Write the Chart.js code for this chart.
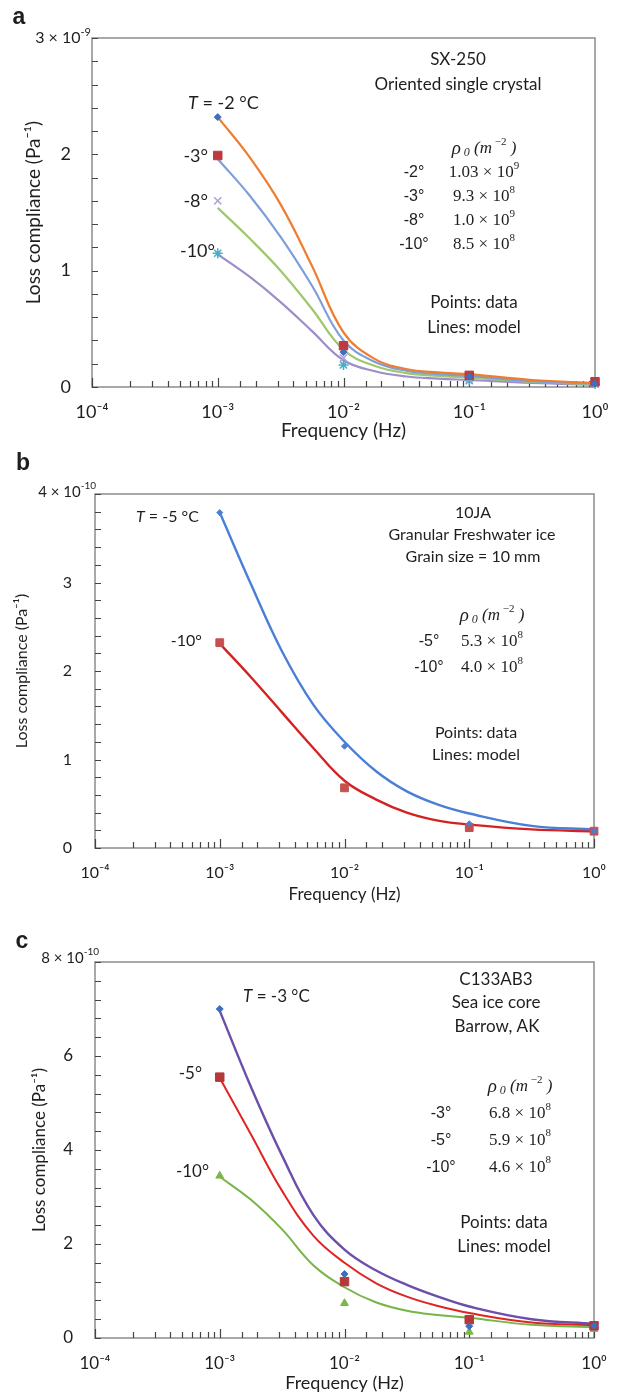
<!DOCTYPE html>
<html>
<head>
<meta charset="utf-8">
<script src="https://cdn.jsdelivr.net/npm/chart.js@4.4.1/dist/chart.umd.min.js"></script>
<style>
  body { margin: 0; background: #fff; width: 617px; height: 1394px; position: relative; overflow: hidden; }
  canvas { position: absolute; left: 0; }
</style>
</head>
<body>
<canvas id="chartA" width="617" height="445" style="top:0px"></canvas>
<canvas id="chartB" width="617" height="470" style="top:445px"></canvas>
<canvas id="chartC" width="617" height="479" style="top:915px"></canvas>
<script>
// frequencies (Hz) of measured points and of the read-off model curve
const dataFreq = [0.001, 0.01, 0.1, 1];
const modelFreq = [0.001, 0.00178, 0.00316, 0.00562, 0.01, 0.0178, 0.0316, 0.0562, 0.1, 0.316, 1];

// panel a, SX-250 (units of 1e-9 Pa^-1)
const aPts_m2 = [2.32, 0.30, 0.09, 0.03];
const aPts_m3 = [1.99, 0.355, 0.10, 0.045];
const aPts_m8 = [1.60, 0.25, 0.07, 0.03];
const aPts_m10 = [1.15, 0.19, 0.055, 0.025];
const aFit_m2 = [2.32, 1.98, 1.57, 1.04, 0.47, 0.24, 0.155, 0.125, 0.11, 0.06, 0.035];
const aFit_m3 = [1.96, 1.65, 1.29, 0.87, 0.40, 0.215, 0.14, 0.11, 0.095, 0.05, 0.03];
const aFit_m8 = [1.54, 1.28, 1.00, 0.67, 0.32, 0.18, 0.12, 0.095, 0.08, 0.045, 0.025];
const aFit_m10 = [1.14, 0.95, 0.73, 0.48, 0.23, 0.135, 0.09, 0.072, 0.06, 0.035, 0.02];

// panel b, 10JA (units of 1e-10 Pa^-1)
const bPts_m5 = [3.79, 1.15, 0.275, 0.19];
const bPts_m10 = [2.32, 0.68, 0.23, 0.19];
const bFit_m5 = [3.79, 2.98, 2.22, 1.62, 1.20, 0.87, 0.64, 0.49, 0.39, 0.25, 0.21];
const bFit_m10 = [2.31, 1.93, 1.53, 1.13, 0.76, 0.55, 0.40, 0.31, 0.265, 0.21, 0.19];

// panel c, C133AB3 (units of 1e-10 Pa^-1)
const cPts_m3 = [7.0, 1.36, 0.25, 0.26];
const cPts_m5 = [5.55, 1.2, 0.39, 0.26];
const cPts_m10 = [3.45, 0.74, 0.13, 0.19];
const cFit_m3 = [6.96, 5.34, 3.88, 2.62, 1.88, 1.44, 1.13, 0.88, 0.67, 0.40, 0.30];
const cFit_m5 = [5.53, 4.33, 3.13, 2.18, 1.60, 1.17, 0.88, 0.68, 0.53, 0.33, 0.27];
const cFit_m10 = [3.43, 2.94, 2.31, 1.55, 1.08, 0.76, 0.58, 0.49, 0.43, 0.28, 0.23];

// dislocation densities rho0 (m^-2)
const aRhoTemps = ['-2°', '-3°', '-8°', '-10°'];
const aRhoVals = [['1.03', '9'], ['9.3', '8'], ['1.0', '9'], ['8.5', '8']];
const bRhoTemps = ['-5°', '-10°'];
const bRhoVals = [['5.3', '8'], ['4.0', '8']];
const cRhoTemps = ['-3°', '-5°', '-10°'];
const cRhoVals = [['6.8', '8'], ['5.9', '8'], ['4.6', '8']];

const SANS = 'Lato, "Open Sans", sans-serif';
const SERIF = '"Liberation Serif", "DejaVu Serif", serif';
const INK = '#1e1e1e';

const supMap = {'-': '⁻', '0': '⁰', '1': '¹', '2': '²', '3': '³', '4': '⁴', '5': '⁵', '6': '⁶', '7': '⁷', '8': '⁸', '9': '⁹'};
const sup = s => s.split('').map(c => supMap[c] || c).join('');

// draw a run of text pieces [text, font, dy]
function drawParts(ctx, parts, x, y, align) {
  let w = 0;
  parts.forEach(p => { ctx.font = p[1]; w += ctx.measureText(p[0]).width; });
  let cx = align === 'right' ? x - w : (align === 'left' ? x : x - w / 2);
  ctx.textAlign = 'left';
  ctx.textBaseline = 'middle';
  parts.forEach(p => {
    ctx.font = p[1];
    ctx.fillText(p[0], cx, y + (p[2] || 0));
    cx += ctx.measureText(p[0]).width;
  });
}

function text(ctx, s, x, y, font, align) {
  ctx.font = font;
  ctx.textAlign = align || 'center';
  ctx.textBaseline = 'middle';
  ctx.fillText(s, x, y);
}

function rhoTable(ctx, temps, vals, xT, xV, y0, dy, size) {
  drawParts(ctx, [
    ['ρ', 'italic ' + (size + 2) + 'px ' + SERIF],
    [' 0', 'italic ' + (size - 5) + 'px ' + SERIF, 4],
    [' (m', 'italic ' + size + 'px ' + SERIF],
    [' −2', (size - 6) + 'px ' + SERIF, -7],
    [' )', 'italic ' + size + 'px ' + SERIF]
  ], xV, y0);
  temps.forEach((t, i) => {
    const y = y0 + dy * (i + 1);
    text(ctx, t, xT, y, (size - 1) + 'px "Liberation Sans", Arial, sans-serif');
    drawParts(ctx, [
      [vals[i][0] + ' × 10', size + 'px ' + SERIF],
      [vals[i][1], (size - 6) + 'px ' + SERIF, -7]
    ], xV, y);
  });
}

const frame = {
  id: 'frame',
  beforeDatasetsDraw(chart) {
    const {ctx, chartArea: a, scales: {x, y}} = chart;
    ctx.save();
    ctx.strokeStyle = '#8c8c8c';
    ctx.lineWidth = 1.5;
    ctx.strokeRect(a.left, a.top, a.right - a.left, a.bottom - a.top);
    ctx.strokeStyle = '#444';
    ctx.lineWidth = 1.2;
    ctx.beginPath();
    x.ticks.forEach(t => {
      const px = Math.round(x.getPixelForValue(t.value)) + 0.5;
      const e = Math.log10(t.value);
      const len = Math.abs(e - Math.round(e)) < 1e-6 ? 9 : 6;
      ctx.moveTo(px, a.bottom);
      ctx.lineTo(px, a.bottom - len);
    });
    y.ticks.forEach(t => {
      const py = Math.round(y.getPixelForValue(t.value)) + 0.5;
      ctx.moveTo(a.left, py);
      ctx.lineTo(a.left + 6, py);
    });
    ctx.stroke();
    ctx.restore();
  },
  afterDraw(chart, args, opts) {
    const ctx = chart.ctx;
    ctx.save();
    ctx.fillStyle = INK;
    // multiplier at the top of the y axis
    const yTop = chart.scales.y.getPixelForValue(chart.scales.y.max);
    drawParts(ctx, [
      [opts.mult + ' × 10', opts.multSize + 'px ' + SANS],
      [opts.exp, (opts.multSize - 5) + 'px ' + SANS, -6]
    ], opts.multX, yTop + opts.multDy, 'right');
    ctx.translate(0, -opts.offsetY);
    opts.notes(ctx);
    ctx.restore();
  }
};

function makeChart(p) {
  const W = 617, H = p.height;
  const datasets = [];
  p.points.forEach(s => datasets.push({
    data: dataFreq.map((f, i) => ({x: f, y: s.values[i]})),
    showLine: false,
    pointStyle: s.style,
    pointRadius: s.r,
    pointBackgroundColor: s.fill || s.color,
    pointBorderColor: s.color,
    pointBorderWidth: s.bw || 1,
    clip: false,
    order: 0
  }));
  p.lines.forEach(s => datasets.push({
    data: modelFreq.map((f, i) => ({x: f, y: s.values[i]})),
    showLine: true,
    borderColor: s.color,
    borderWidth: s.w,
    pointRadius: 0,
    tension: 0.4,
    fill: false,
    order: 1
  }));

  new Chart(document.getElementById(p.id), {
    type: 'scatter',
    data: {datasets: datasets},
    plugins: [frame],
    options: {
      responsive: false,
      animation: false,
      events: [],
      layout: {padding: {top: p.area.top, right: W - p.area.right, left: 0, bottom: 0}},
      plugins: {
        legend: {display: false},
        tooltip: {enabled: false},
        frame: {mult: p.mult, exp: p.exp, multX: p.multX, multDy: p.multDy, multSize: p.multSize,
                offsetY: p.offsetY, notes: p.notes}
      },
      scales: {
        x: {
          type: 'logarithmic',
          min: 0.0001,
          max: 1,
          grid: {display: false},
          border: {display: false},
          ticks: {
            autoSkip: false,
            maxRotation: 0,
            padding: p.xTickPad,
            color: INK,
            font: {family: SANS, size: p.tickSize},
            callback: v => {
              const e = Math.log10(v);
              return Math.abs(e - Math.round(e)) < 1e-6 ? '10' + sup(String(Math.round(e))) : '';
            }
          },
          title: {display: true, text: 'Frequency (Hz)', color: INK,
                  font: {family: SANS, size: p.xTitleSize}, padding: {top: 0, bottom: p.xTitlePad}},
          afterFit: s => { s.height = H - p.area.bottom; }
        },
        y: {
          min: 0,
          max: p.yMax,
          grid: {display: false},
          border: {display: false},
          ticks: {
            stepSize: p.yStep,
            autoSkip: false,
            padding: p.yTickPad,
            color: INK,
            font: {family: SANS, size: p.tickSize},
            callback: v => {
              if (v >= p.yMax - 1e-6) return '';
              const k = v / p.yLabelStep;
              return Math.abs(k - Math.round(k)) < 1e-6 ? String(Math.round(v)) : '';
            }
          },
          title: {display: true, text: 'Loss compliance (Pa' + sup('-1') + ')', color: INK,
                  font: {family: SANS, size: p.yTitleSize}, padding: {top: p.yTitlePad, bottom: 0}},
          afterFit: s => { s.width = p.area.left; }
        }
      }
    }
  });
}

makeChart({
  id: 'chartA', height: 445, offsetY: 0,
  area: {left: 92, top: 38, right: 595, bottom: 387},
  yMax: 3, yStep: 0.2, yLabelStep: 1,
  mult: '3', exp: '-9', multX: 91, multDy: 0, multSize: 16,
  tickSize: 18, xTickPad: 6, yTickPad: 13, xTitleSize: 19, xTitlePad: 3, yTitleSize: 19, yTitlePad: 22,
  points: [
    {values: aPts_m2, style: 'rectRot', r: 3.5, color: '#3d6fc0'},
    {values: aPts_m3, style: 'rect', r: 6, color: '#bd3a3e'},
    {values: aPts_m8, style: 'crossRot', r: 5, color: '#b1a3d4', bw: 1.5},
    {values: aPts_m10, style: 'star', r: 5, color: '#4bacc6', bw: 1.5}
  ],
  lines: [
    {values: aFit_m2, color: '#ee7d30', w: 2.2},
    {values: aFit_m3, color: '#7d9fd9', w: 2.2},
    {values: aFit_m8, color: '#9fc76b', w: 2.2},
    {values: aFit_m10, color: '#9f8dc9', w: 2.2}
  ],
  notes: ctx => {
    text(ctx, 'a', 19, 18, 'bold 23px "Liberation Sans", Arial, sans-serif');
    text(ctx, 'SX-250', 458, 60, '17px ' + SANS);
    text(ctx, 'Oriented single crystal', 458, 85, '17px ' + SANS);
    drawParts(ctx, [['T', 'italic 18px ' + SANS], [' = -2 °C', '18px ' + SANS]], 188, 103, 'left');
    text(ctx, '-3°', 208, 156, '18px ' + SANS, 'right');
    text(ctx, '-8°', 208, 201, '18px ' + SANS, 'right');
    text(ctx, '-10°', 215, 251, '18px ' + SANS, 'right');
    rhoTable(ctx, aRhoTemps, aRhoVals, 414, 484, 149, 24, 17);
    text(ctx, 'Points: data', 474, 303, '17px ' + SANS);
    text(ctx, 'Lines: model', 474, 328, '17px ' + SANS);
  }
});

makeChart({
  id: 'chartB', height: 470, offsetY: 445,
  area: {left: 95, top: 49, right: 594, bottom: 403},
  yMax: 4, yStep: 0.2, yLabelStep: 1,
  mult: '4', exp: '-10', multX: 96, multDy: -2, multSize: 15,
  tickSize: 16, xTickPad: 7, yTickPad: 15, xTitleSize: 17, xTitlePad: 10, yTitleSize: 16, yTitlePad: 12,
  points: [
    {values: bPts_m5, style: 'rectRot', r: 3, color: '#4a7fd6'},
    {values: bPts_m10, style: 'rect', r: 5.5, color: '#c6504e'}
  ],
  lines: [
    {values: bFit_m5, color: '#4a7fd6', w: 2.4},
    {values: bFit_m10, color: '#d42222', w: 2.4}
  ],
  notes: ctx => {
    text(ctx, 'b', 23, 464, 'bold 23px "Liberation Sans", Arial, sans-serif');
    text(ctx, '10JA', 473, 513, '16px ' + SANS);
    text(ctx, 'Granular Freshwater ice', 472, 535, '16px ' + SANS);
    text(ctx, 'Grain size = 10 mm', 473, 557, '16px ' + SANS);
    drawParts(ctx, [['T', 'italic 16px ' + SANS], [' = -5 °C', '16px ' + SANS]], 136, 517, 'left');
    text(ctx, '-10°', 202, 641, '16px ' + SANS, 'right');
    rhoTable(ctx, bRhoTemps, bRhoVals, 429, 492, 616, 26, 17);
    text(ctx, 'Points: data', 476, 733, '16px ' + SANS);
    text(ctx, 'Lines: model', 476, 755, '16px ' + SANS);
  }
});

makeChart({
  id: 'chartC', height: 479, offsetY: 915,
  area: {left: 95, top: 47, right: 594, bottom: 423},
  yMax: 8, yStep: 0.4, yLabelStep: 2,
  mult: '8', exp: '-10', multX: 99, multDy: -4, multSize: 15,
  tickSize: 17, xTickPad: 7, yTickPad: 14, xTitleSize: 18, xTitlePad: 0, yTitleSize: 17, yTitlePad: 29,
  points: [
    {values: cPts_m3, style: 'rectRot', r: 3.5, color: '#3c6fc2'},
    {values: cPts_m5, style: 'rect', r: 6, color: '#b5393b'},
    {values: cPts_m10, style: 'triangle', r: 4.5, color: '#7ab648'}
  ],
  lines: [
    {values: cFit_m3, color: '#6b4fa8', w: 2.4},
    {values: cFit_m5, color: '#e02424', w: 2},
    {values: cFit_m10, color: '#78b548', w: 2}
  ],
  notes: ctx => {
    text(ctx, 'c', 22, 942, 'bold 23px "Liberation Sans", Arial, sans-serif');
    text(ctx, 'C133AB3', 496, 980, '17px ' + SANS);
    text(ctx, 'Sea ice core', 496, 1003, '17px ' + SANS);
    text(ctx, 'Barrow, AK', 497, 1027, '17px ' + SANS);
    drawParts(ctx, [['T', 'italic 17px ' + SANS], [' = -3 °C', '17px ' + SANS]], 243, 997, 'left');
    text(ctx, '-5°', 202, 1074, '17px ' + SANS, 'right');
    text(ctx, '-10°', 209, 1172, '17px ' + SANS, 'right');
    rhoTable(ctx, cRhoTemps, cRhoVals, 441, 520, 1087, 26.7, 17);
    text(ctx, 'Points: data', 504, 1223, '17px ' + SANS);
    text(ctx, 'Lines: model', 504, 1247, '17px ' + SANS);
  }
});
</script>
</body>
</html>
